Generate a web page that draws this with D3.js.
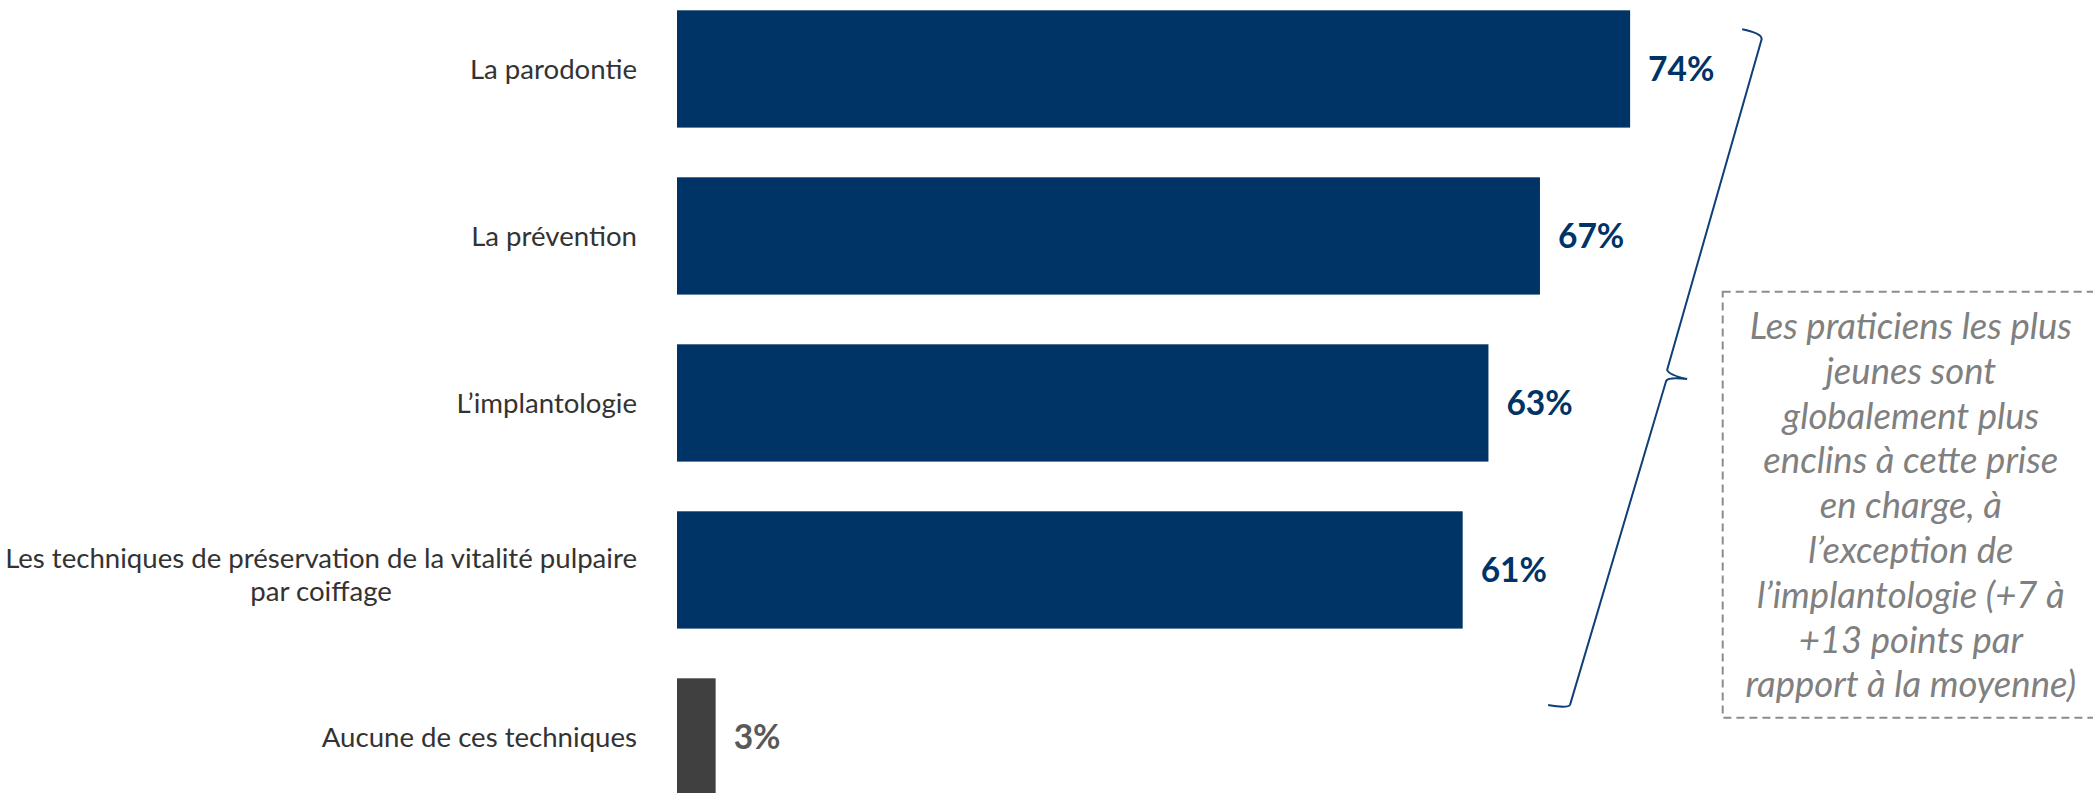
<!DOCTYPE html>
<html>
<head>
<meta charset="utf-8">
<script src="https://cdn.jsdelivr.net/npm/d3@7/dist/d3.min.js"></script>
<style>
  html, body { margin: 0; padding: 0; background: #ffffff; }
  svg { display: block; }
</style>
</head>
<body>
<svg id="chart" width="2093" height="793"></svg>
<script>
// ---- data ----
const categories = [
  "La parodontie",
  "La prévention",
  "L’implantologie",
  "Les techniques de préservation de la vitalité pulpaire|par coiffage",
  "Aucune de ces techniques"
];
const values = [74, 67, 63, 61, 3];
const valueLabels = ["74%", "67%", "63%", "61%", "3%"];
const barGroups = ["main", "main", "main", "main", "none"];
const noteLines = [
  "Les praticiens les plus",
  "jeunes sont",
  "globalement plus",
  "enclins à cette prise",
  "en charge, à",
  "l’exception de",
  "l’implantologie (+7 à",
  "+13 points par",
  "rapport à la moyenne)"
];

// ---- styles ----
const W = 2093, H = 793;
const FONT = "Lato, 'Open Sans', sans-serif";
const colors = { main: "#003366", none: "#404040" };
const labelColors = { main: "#003366", none: "#595959" };

const svg = d3.select("#chart");

const x = d3.scaleLinear().domain([0, 100]).range([677, 677 + 1288]);
const step = 167, pIn = 0.2976;
const r0 = 10.3 - (pIn / 2) * step;
const y = d3.scaleBand()
  .domain(categories)
  .range([r0, r0 + step * categories.length])
  .paddingInner(pIn)
  .paddingOuter(pIn / 2);

const data = categories.map((c, i) => ({ cat: c, v: values[i], lab: valueLabels[i], g: barGroups[i] }));

// bars
svg.append("g").selectAll("rect").data(data).join("rect")
  .attr("x", x(0))
  .attr("y", d => y(d.cat))
  .attr("width", d => x(d.v) - x(0))
  .attr("height", y.bandwidth())
  .attr("fill", d => colors[d.g]);

// value labels
svg.append("g").selectAll("text").data(data).join("text")
  .attr("x", d => x(d.v) + 18)
  .attr("y", d => y(d.cat) + y.bandwidth() / 2 + 12)
  .attr("font-family", FONT)
  .attr("font-weight", "bold")
  .attr("font-size", 33.5)
  .attr("fill", d => labelColors[d.g])
  .text(d => d.lab);

// category labels
const catG = svg.append("g");
const labelRight = 637;
data.forEach(d => {
  const lines = d.cat.split("|");
  const cy = y(d.cat) + y.bandwidth() / 2 + (lines.length > 1 ? 4.5 : 0);
  const lh = 33.4;
  const t = catG.append("text")
    .attr("font-family", FONT)
    .attr("font-size", 27.6)
    .attr("fill", "#333333");
  const spans = lines.map((ln, i) =>
    t.append("tspan")
      .attr("y", cy + 10 + (i - (lines.length - 1) / 2) * lh)
      .text(ln));
  const widths = spans.map(s => s.node().getComputedTextLength());
  const maxW = d3.max(widths);
  const cx = labelRight - maxW / 2;
  spans.forEach(s => s.attr("x", cx).attr("text-anchor", "middle"));
});

// brace annotation
const topY = y(categories[0]) + 19;
const botY = y(categories[3]) + y.bandwidth() + 80;
const midY = 372;
const bx = x(values[0]);
const brace = d3.path();
brace.moveTo(bx + 112, topY);
brace.quadraticCurveTo(bx + 132, topY + 4, bx + 131.5, topY + 10);
brace.lineTo(bx + 37, midY - 2);
brace.quadraticCurveTo(bx + 39, midY + 3, bx + 57, midY + 7);
brace.quadraticCurveTo(bx + 38, midY + 5, bx + 36, midY + 9);
brace.lineTo(bx - 60, botY - 4);
brace.quadraticCurveTo(bx - 62, botY, bx - 82, botY - 3.5);
svg.append("path")
  .attr("d", brace.toString())
  .attr("fill", "none")
  .attr("stroke", "#0f3f78")
  .attr("stroke-width", 2);

// note box
const boxX = 1722.7, boxY = 291.7, boxW = 2099 - 1722.7, boxH = 717.8 - 291.7;
svg.append("rect")
  .attr("x", boxX).attr("y", boxY)
  .attr("width", boxW).attr("height", boxH)
  .attr("fill", "none")
  .attr("stroke", "#8c8c8c")
  .attr("stroke-width", 2)
  .attr("stroke-dasharray", "8,5");

const noteCx = boxX + boxW / 2;
svg.append("g").selectAll("text").data(noteLines).join("text")
  .attr("x", noteCx)
  .attr("y", (d, i) => 327 + 12 + i * 44.8)
  .attr("text-anchor", "middle")
  .attr("font-family", FONT)
  .attr("font-style", "italic")
  .attr("font-size", 36.5)
  .attr("fill", "#808080")
  .text(d => d);
</script>
</body>
</html>
